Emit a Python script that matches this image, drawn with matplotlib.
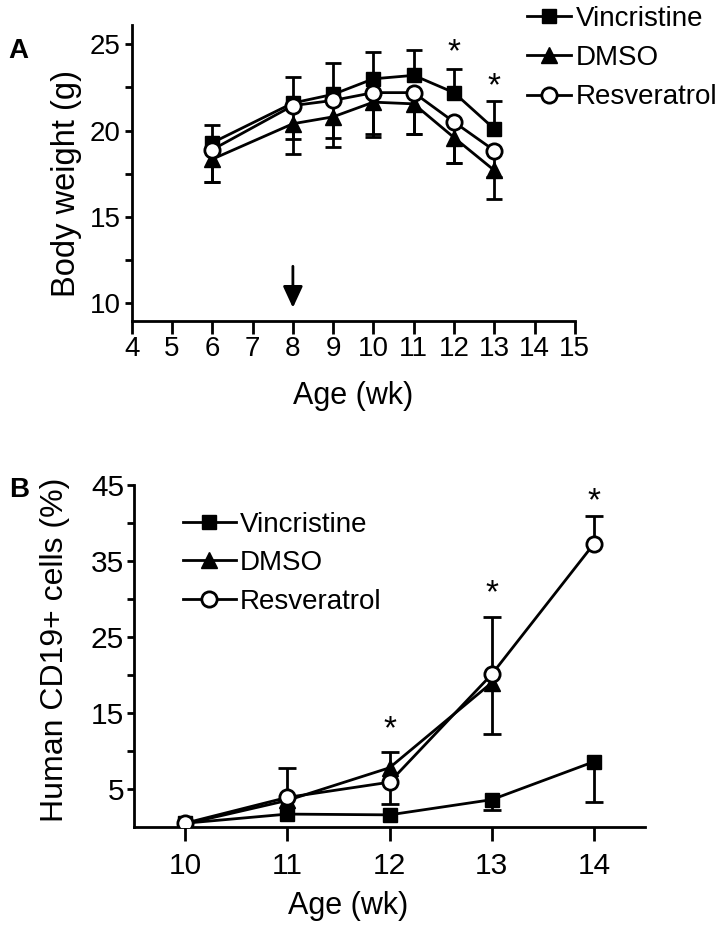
import numpy as np
import matplotlib
matplotlib.use("Agg")
import matplotlib.pyplot as plt

plt.rcParams['font.family'] = ['Liberation Sans', 'DejaVu Sans']

# panel A: body weight
wk_a = np.array([6, 8, 9, 10, 11, 12, 13])
vin_a = np.array([19.3, 21.6, 22.1, 23.0, 23.2, 22.2, 20.1])
vin_a_up = np.array([1.0, 1.5, 1.8, 1.55, 1.45, 1.35, 1.6])
dmso_a = np.array([18.35, 20.4, 20.8, 21.65, 21.55, 19.6, 17.7])
dmso_a_lo = np.array([1.35, 1.75, 1.75, 2.0, 1.75, 1.45, 1.65])
res_a = np.array([18.9, 21.45, 21.75, 22.2, 22.2, 20.5, 18.85])
res_a_lo = np.array([1.9, 1.95, 2.2, 2.4, 2.4, 2.4, 1.55])
star_a_x = [12, 13]
star_a_y = [24.5, 22.55]

# panel B: human CD19+ cells
wk_b = np.array([10, 11, 12, 13, 14])
vin_b = np.array([0.5, 1.7, 1.6, 3.6, 8.6])
vin_b_lo = np.array([0, 0, 0, 1.4, 5.3])
dmso_b = np.array([0.4, 3.5, 7.8, 19.0, np.nan])
dmso_b_up = np.array([0, 4.3, 2.1, 8.6, 0])
res_b = np.array([0.5, 3.9, 5.9, 20.1, 37.3])
res_b_up = np.array([0, 0, 0, 0, 3.6])
res_b_lo = np.array([0, 0, 2.9, 7.8, 0])
star_b_x = [12, 13, 14]
star_b_y = [12.8, 30.7, 42.8]

names = ['Vincristine', 'DMSO', 'Resveratrol']

fig = plt.figure(figsize=(7.24, 9.35), dpi=100)
lw = 2.0


def err(ax, x, y, e, sign, cap):
    # one-sided error bars, only where there is an error
    m = e > 0
    tip = y[m] + sign * e[m]
    ax.vlines(x[m], y[m], tip, color='black', lw=lw, zorder=2)
    ax.plot(x[m], tip, ls='none', marker='_', ms=cap, mew=lw, color='black', zorder=2)


def series(ax, x, ys):
    h = []
    h += ax.plot(x, ys[0], color='black', lw=lw, marker='s', ms=10, mfc='black', mec='black', zorder=3)
    h += ax.plot(x, ys[1], color='black', lw=lw, marker='^', ms=11, mfc='black', mec='black', zorder=3)
    h += ax.plot(x, ys[2], color='black', lw=lw, marker='o', ms=11, mfc='white', mec='black', mew=lw, zorder=4)
    return h


def style(ax, fs):
    ax.spines['top'].set_visible(False)
    ax.spines['right'].set_visible(False)
    ax.spines['left'].set_linewidth(lw)
    ax.spines['bottom'].set_linewidth(lw)
    ax.tick_params(axis='both', which='both', width=lw, labelsize=fs, direction='out')

# ---- A ----
ax1 = fig.add_axes([0.182, 0.657, 0.612, 0.316])
err(ax1, wk_a, vin_a, vin_a_up, 1, 11)
err(ax1, wk_a, dmso_a, dmso_a_lo, -1, 11)
err(ax1, wk_a, res_a, res_a_lo, -1, 11)
h = series(ax1, wk_a, [vin_a, dmso_a, res_a])
for x, y in zip(star_a_x, star_a_y):
    ax1.text(x, y, '*', ha='center', va='center', fontsize=24)
ax1.annotate('', xy=(8, 9.75), xytext=(8, 12.15),
             arrowprops=dict(arrowstyle='-|>,head_width=0.3,head_length=0.65', mutation_scale=20,
                             color='black', lw=lw, shrinkA=0, shrinkB=0))
ax1.set_xlim(4, 15)
ax1.set_ylim(9, 26.1)
ax1.set_xticks(range(4, 16))
ax1.set_yticks([10, 15, 20, 25])
ax1.set_yticks([12.5, 17.5, 22.5], minor=True)
style(ax1, 20)
ax1.tick_params(axis='x', length=9, pad=2)
ax1.tick_params(axis='y', which='both', length=5, pad=3)
ax1.set_xlabel('Age (wk)', fontsize=22, va='top')
ax1.xaxis.set_label_coords(0.5, -0.203)
ax1.set_ylabel('Body weight (g)', fontsize=23.5)
ax1.yaxis.set_label_coords(-0.112, 0.466)
ax1.legend(h, names, loc='center left', bbox_to_anchor=(0.892, 0.889), frameon=False, fontsize=20,
           handlelength=1.6, handletextpad=0.15, labelspacing=0.48, borderaxespad=0, borderpad=0)
fig.text(0.012, 1 - 51 / 935, 'A', fontsize=20, fontweight='bold', va='center')

# ---- B ----
ax2 = fig.add_axes([0.185, 0.1155, 0.706, 0.3655])
err(ax2, wk_b, vin_b, vin_b_lo, -1, 13)
err(ax2, wk_b, dmso_b, dmso_b_up, 1, 13)
err(ax2, wk_b, res_b, res_b_up, 1, 13)
err(ax2, wk_b, res_b, res_b_lo, -1, 13)
h = series(ax2, wk_b, [vin_b, dmso_b, res_b])
for x, y in zip(star_b_x, star_b_y):
    ax2.text(x, y, '*', ha='center', va='center', fontsize=24)
ax2.set_xlim(9.5, 14.5)
ax2.set_ylim(0, 45)
ax2.set_xticks(wk_b)
ax2.set_yticks([5, 15, 25, 35, 45])
ax2.set_yticks([10, 20, 30, 40], minor=True)
style(ax2, 21.5)
ax2.tick_params(axis='x', length=10, pad=8)
ax2.tick_params(axis='y', which='both', length=5, pad=2)
ax2.set_xlabel('Age (wk)', fontsize=22, va='top')
ax2.xaxis.set_label_coords(0.42, -0.187)
ax2.set_ylabel('Human CD19+ cells (%)', fontsize=23)
ax2.yaxis.set_label_coords(-0.125, 0.518)
ax2.legend(h, names, loc='center left', bbox_to_anchor=(0.096, 0.772), frameon=False, fontsize=20,
           handlelength=1.9, handletextpad=0.15, labelspacing=0.45, borderaxespad=0, borderpad=0)
fig.text(0.012, 1 - 490 / 935, 'B', fontsize=20, fontweight='bold', va='center')

fig.savefig('out.png', dpi=100)
